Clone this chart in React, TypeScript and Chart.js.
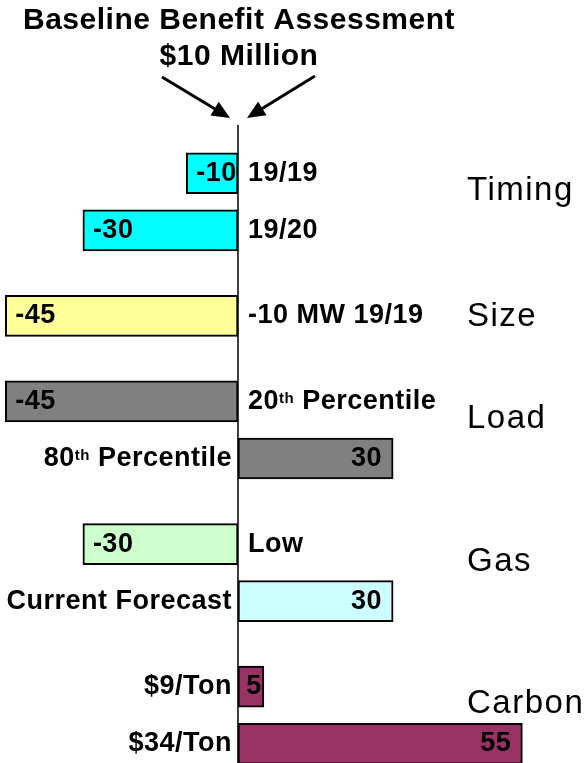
import { useEffect, useRef } from 'react';
import { Chart, registerables } from 'chart.js';

Chart.register(...registerables);

// ---- data ----
const categories = ['19/19', '19/20', '-10 MW 19/19', '20th Percentile', '80th Percentile', 'Low', 'Current Forecast', '$9/Ton', '$34/Ton'];
const values = [-10, -30, -45, -45, 30, -30, 30, 5, 55];
const groups = ['Timing', 'Timing', 'Size', 'Load', 'Load', 'Gas', 'Gas', 'Carbon', 'Carbon'];
const barColors = ['#00FFFF', '#00FFFF', '#FFFF99', '#808080', '#808080', '#CCFFCC', '#CCFFFF', '#993366', '#993366'];
const titleLines = ['Baseline Benefit Assessment', '$10 Million'];
const xMin = -46.03;
const xMax = 67.5;

const FONT = '"Liberation Sans", Arial, Helvetica, sans-serif';
const LABEL_SIZE = 27;
const LABEL_SPACING = 0.5;

// Build category slots: one blank slot between items of a group, two between groups
function buildSlots() {
  const slotLabels: string[] = [];
  const slotValues: (number | null)[] = [];
  const slotColors: string[] = [];
  const slotIndex: number[] = [];
  categories.forEach((lab, i) => {
    if (i > 0) {
      const gaps = groups[i] === groups[i - 1] ? 1 : 2;
      for (let g = 0; g < gaps; g++) {
        slotLabels.push('');
        slotValues.push(null);
        slotColors.push('rgba(0,0,0,0)');
      }
    }
    slotIndex.push(slotLabels.length);
    slotLabels.push(lab);
    slotValues.push(values[i]);
    slotColors.push(barColors[i]);
  });
  return { slotLabels, slotValues, slotColors, slotIndex };
}

function setFont(ctx: CanvasRenderingContext2D, size: number, bold: boolean, spacing: number) {
  ctx.font = `${bold ? 'bold ' : ''}${size}px ${FONT}`;
  (ctx as any).letterSpacing = `${spacing}px`;
}

function parseRich(text: string) {
  const m = text.match(/^(\d+)(st|nd|rd|th)(.*)$/);
  if (!m) return [{ t: text, sup: false }];
  return [
    { t: m[1], sup: false },
    { t: m[2], sup: true },
    { t: m[3], sup: false },
  ];
}

function drawRich(ctx: CanvasRenderingContext2D, text: string, x: number, y: number, align: 'left' | 'right') {
  const segs = parseRich(text);
  const widths = segs.map((s) => {
    setFont(ctx, s.sup ? 15 : LABEL_SIZE, true, LABEL_SPACING);
    return ctx.measureText(s.t).width;
  });
  const total = widths.reduce((a, b) => a + b, 0);
  let cx = align === 'right' ? x - total : x;
  ctx.textAlign = 'left';
  ctx.textBaseline = 'middle';
  segs.forEach((s, i) => {
    setFont(ctx, s.sup ? 15 : LABEL_SIZE, true, LABEL_SPACING);
    ctx.fillText(s.t, cx, s.sup ? y - 3 : y);
    cx += widths[i];
  });
}

function arrow(ctx: CanvasRenderingContext2D, x1: number, y1: number, x2: number, y2: number) {
  const ang = Math.atan2(y2 - y1, x2 - x1);
  const headLen = 18;
  const headW = 8;
  const bx = x2 - headLen * Math.cos(ang);
  const by = y2 - headLen * Math.sin(ang);
  ctx.lineWidth = 3;
  ctx.beginPath();
  ctx.moveTo(x1, y1);
  ctx.lineTo(bx + 2 * Math.cos(ang), by + 2 * Math.sin(ang));
  ctx.stroke();
  ctx.beginPath();
  ctx.moveTo(x2, y2);
  ctx.lineTo(bx + headW * Math.sin(ang), by - headW * Math.cos(ang));
  ctx.lineTo(bx - headW * Math.sin(ang), by + headW * Math.cos(ang));
  ctx.closePath();
  ctx.fill();
}

export default function App() {
  const ref = useRef<HTMLCanvasElement | null>(null);

  useEffect(() => {
    if (!ref.current) return;
    const { slotLabels, slotValues, slotColors, slotIndex } = buildSlots();

    const overlay = {
      id: 'overlay',
      afterDatasetsDraw(chart: any) {
        const ctx: CanvasRenderingContext2D = chart.ctx;
        const xs = chart.scales.x;
        const zero = xs.getPixelForValue(0);
        const meta = chart.getDatasetMeta(0);
        ctx.save();
        ctx.fillStyle = '#000';
        ctx.strokeStyle = '#000';

        // axis line
        ctx.lineWidth = 1.5;
        ctx.beginPath();
        ctx.moveTo(zero, 125);
        ctx.lineTo(zero, chart.height);
        ctx.stroke();

        // title
        setFont(ctx, 30, true, 0.5);
        ctx.textAlign = 'left';
        ctx.textBaseline = 'alphabetic';
        titleLines.forEach((line, k) => {
          const w = ctx.measureText(line).width;
          ctx.fillText(line, zero + 1 - w / 2, k === 0 ? 29 : 65);
        });

        // arrows
        arrow(ctx, zero - 76, 77, zero - 8, 118);
        arrow(ctx, zero + 77, 76, zero + 9, 118);

        // bars: category labels + values
        slotIndex.forEach((si, i) => {
          const el = meta.data[si];
          if (!el) return;
          const v = values[i];
          const y = el.y;
          const end = el.x;
          ctx.fillStyle = '#000';
          if (v < 0) {
            drawRich(ctx, categories[i], zero + 10, y, 'left');
          } else {
            drawRich(ctx, categories[i], zero - 6, y, 'right');
          }
          setFont(ctx, LABEL_SIZE, true, LABEL_SPACING);
          ctx.textAlign = 'left';
          ctx.textBaseline = 'middle';
          const txt = String(v);
          const w = ctx.measureText(txt).width;
          const barW = Math.abs(end - zero);
          let left: number;
          if (v < 0) {
            left = end + 10;
          } else {
            const pad = barW - w < 20 ? 2 : 11;
            left = end - pad - w;
          }
          ctx.fillText(txt, left, y);
        });

        // group labels
        const seen: string[] = [];
        groups.forEach((g) => {
          if (seen.includes(g)) return;
          seen.push(g);
          const ys: number[] = [];
          groups.forEach((gg, j) => {
            if (gg === g) ys.push(meta.data[slotIndex[j]].y);
          });
          const mid = (Math.min(...ys) + Math.max(...ys)) / 2;
          const y = ys.length > 1 ? mid - 11 : mid + 1;
          setFont(ctx, 33, false, 1.5);
          ctx.textAlign = 'left';
          ctx.textBaseline = 'middle';
          ctx.fillText(g, 467, y);
        });

        ctx.restore();
      },
    };

    const chart = new Chart(ref.current, {
      type: 'bar',
      data: {
        labels: slotLabels,
        datasets: [
          {
            data: slotValues,
            backgroundColor: slotColors,
            borderColor: '#000',
            borderWidth: 2,
            borderSkipped: false,
            barThickness: 41,
            clip: false as any,
          },
        ],
      },
      options: {
        indexAxis: 'y',
        responsive: false,
        animation: false,
        devicePixelRatio: 1,
        layout: { padding: { top: 159, bottom: 5, left: 0, right: 0 } },
        scales: {
          x: { type: 'linear', min: xMin, max: xMax, display: false },
          y: { type: 'category', display: false },
        },
        plugins: {
          legend: { display: false },
          tooltip: { enabled: false },
          title: { display: false },
        },
      },
      plugins: [overlay],
    });

    return () => chart.destroy();
  }, []);

  return (
    <div style={{ position: 'absolute', left: 0, top: 0, width: 587, height: 763, background: '#fff' }}>
      <canvas ref={ref} width={587} height={763} style={{ display: 'block', width: 587, height: 763 }} />
    </div>
  );
}
